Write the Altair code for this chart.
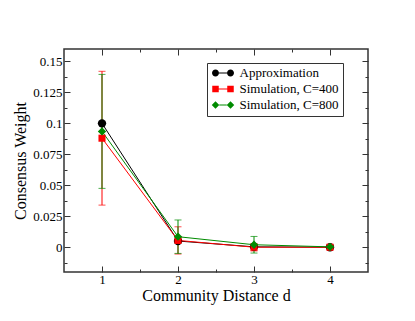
import altair as alt
import pandas as pd

# ---- data ----
distance = [1, 2, 3, 4]
series_names = ["Approximation", "Simulation, C=400", "Simulation, C=800"]
approximation = [0.100, 0.005, 0.0003, 0.0]
sim_c400 = [0.088, 0.0055, 0.0, 0.0]
sim_c400_err = [0.054, 0.011, 0.003, 0.001]
sim_c800 = [0.0935, 0.0085, 0.002, 0.0003]
sim_c800_err = [0.046, 0.0135, 0.0067, 0.0012]

x_major = [1, 2, 3, 4]
x_minor = [1.5, 2.5, 3.5]
y_major = [0, 0.025, 0.05, 0.075, 0.1, 0.125, 0.15]
y_minor = [-0.0125, 0.0125, 0.0375, 0.0625, 0.0875, 0.1125, 0.1375]

# ---- styling ----
W, H = 304, 223
FONT = "Liberation Serif"
colors = ["#000000", "#ff0000", "#008b00"]
point_shapes = ["circle", "square", "diamond"]
point_sizes = [70, 50, 70]
# legend symbols: two markers joined by a line (unit coords, scaled by sqrt(size)/2)
legend_paths = [
    "M-1,0 A0.7,0.7 0 1,0 0.4,0 A0.7,0.7 0 1,0 -1,0 Z "
    "M2,0 A0.7,0.7 0 1,0 3.4,0 A0.7,0.7 0 1,0 2,0 Z "
    "M0.4,-0.1 L2,-0.1 L2,0.1 L0.4,0.1 Z",
    "M-0.95,-0.65 L0.35,-0.65 L0.35,0.65 L-0.95,0.65 Z "
    "M2.05,-0.65 L3.35,-0.65 L3.35,0.65 L2.05,0.65 Z "
    "M0.35,-0.1 L2.05,-0.1 L2.05,0.1 L0.35,0.1 Z",
    "M-1.05,0 L-0.3,-0.75 L0.45,0 L-0.3,0.75 Z "
    "M1.95,0 L2.7,-0.75 L3.45,0 L2.7,0.75 Z "
    "M0.45,-0.1 L1.95,-0.1 L1.95,0.1 L0.45,0.1 Z",
]

rows = []
for name, vals, errs in [
    (series_names[0], approximation, [0, 0, 0, 0]),
    (series_names[1], sim_c400, sim_c400_err),
    (series_names[2], sim_c800, sim_c800_err),
]:
    for d, v, e in zip(distance, vals, errs):
        rows.append({"series": name, "d": d, "w": v, "lo": v - e, "hi": v + e})
df = pd.DataFrame(rows)

xs = alt.Scale(domain=[0.5, 4.5], nice=False, zero=False)
ys = alt.Scale(domain=[-0.02, 0.16], nice=False, zero=False)


def tick_axis(orient, offset, values, size):
    return alt.Axis(orient=orient, offset=offset, values=values, labels=False,
                    domain=False, grid=False, ticks=True, tickSize=size,
                    tickColor="#333333", tickWidth=1, title="")


x_axes = [
    alt.Axis(orient="bottom", values=x_major, format="d", ticks=False, domain=False,
             grid=False, labelFont=FONT, labelFontSize=13, labelColor="black",
             labelPadding=1, title="Community Distance d", titleFont=FONT,
             titleFontSize=16, titleFontWeight="normal", titleColor="black",
             titleY=28, titleBaseline="alphabetic"),
    tick_axis("top", -H, x_major, 6),
    tick_axis("top", -H, x_minor, 3),
    tick_axis("bottom", -H, x_major, 6),
    tick_axis("bottom", -H, x_minor, 3),
]
y_axes = [
    alt.Axis(orient="left", values=y_major, format=".3~g", ticks=False, domain=False,
             grid=False, labelFont=FONT, labelFontSize=13, labelColor="black",
             labelPadding=2, title="Consensus Weight", titleFont=FONT,
             titleFontSize=16, titleFontWeight="normal", titleColor="black",
             titleX=-39, titleBaseline="alphabetic"),
    tick_axis("right", -W, y_major, 6),
    tick_axis("right", -W, y_minor, 3),
    tick_axis("left", -W, y_major, 6),
    tick_axis("left", -W, y_minor, 3),
]

layer_count = [0]


def xy(yfield="w"):
    i = layer_count[0]
    layer_count[0] += 1
    if i < len(x_axes):
        return alt.X("d:Q", scale=xs, axis=x_axes[i]), alt.Y(f"{yfield}:Q", scale=ys, axis=y_axes[i])
    return alt.X("d:Q", scale=xs, axis=None), alt.Y(f"{yfield}:Q", scale=ys, axis=None)


layers = []
# lines
for name, c in zip(series_names, colors):
    x, y = xy()
    layers.append(alt.Chart(df).transform_filter(alt.datum.series == name)
                  .mark_line(color=c, strokeWidth=1).encode(x=x, y=y))
# error bars
for name, c in zip(series_names[1:], colors[1:]):
    x, y = xy("lo")
    layers.append(alt.Chart(df).transform_filter(alt.datum.series == name)
                  .mark_rule(color=c, strokeWidth=1).encode(x=x, y=y, y2="hi:Q"))
    for f in ["lo", "hi"]:
        x, y = xy(f)
        layers.append(alt.Chart(df).transform_filter(alt.datum.series == name)
                      .mark_tick(orient="horizontal", color=c, size=7, thickness=1)
                      .encode(x=x, y=y))
# markers
for name, c, s, sz in zip(series_names, colors, point_shapes, point_sizes):
    x, y = xy()
    layers.append(alt.Chart(df).transform_filter(alt.datum.series == name)
                  .mark_point(shape=s, filled=True, size=sz, color=c, opacity=1)
                  .encode(x=x, y=y))
# invisible layer that only provides the legend
x, y = xy()
layers.append(alt.Chart(df).mark_point(filled=True, opacity=0, size=100).encode(
    x=x, y=y,
    color=alt.Color("series:N", scale=alt.Scale(domain=series_names, range=colors), title=None),
    shape=alt.Shape("series:N", scale=alt.Scale(domain=series_names, range=legend_paths), title=None),
))

chart = (
    alt.layer(*layers)
    .resolve_axis(x="independent", y="independent")
    .properties(width=W, height=H, autosize="none",
                padding={"left": 56, "top": 41, "right": 39, "bottom": 41})
    .configure(font=FONT)
    .configure_axis(labelFont=FONT, titleFont=FONT)
    .configure_view(stroke="#333333", strokeWidth=1.5)
    .configure_legend(orient="none", legendX=143, legendY=14, padding=3.5,
                      strokeColor="#333333", strokeWidth=1, fillColor="white",
                      labelFont=FONT, labelFontSize=13, labelColor="black",
                      labelOffset=16, symbolSize=100, symbolOpacity=1,
                      symbolStrokeWidth=0, rowPadding=2, labelLimit=0)
)

chart.save("out.html", embed_options={"renderer": "svg", "actions": False})
